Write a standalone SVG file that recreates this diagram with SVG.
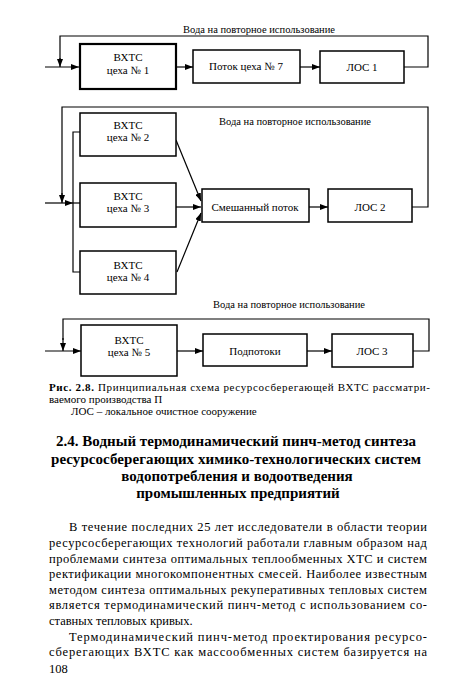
<svg xmlns="http://www.w3.org/2000/svg" width="450" height="684" viewBox="0 0 450 684">
<defs>
<marker id="ah" viewBox="0 0 8 6" refX="8" refY="3" markerWidth="8" markerHeight="6" markerUnits="userSpaceOnUse" orient="auto">
<path d="M0,0 L8,3 L0,6 z" fill="#000"/>
</marker>
</defs>
<style>
.bx{fill:#fff;stroke:#000;stroke-width:1.5}
.bx2{fill:#fff;stroke:#000;stroke-width:2.2}
.ln{fill:none;stroke:#000;stroke-width:1.2}
.ar{fill:none;stroke:#000;stroke-width:1.2;marker-end:url(#ah)}
text{font-family:'Liberation Serif','Times New Roman',Tinos,'Noto Serif','DejaVu Serif',FreeSerif,serif;fill:#000}
.t{font-size:11px;text-anchor:middle}
.lb{font-size:10.5px;text-anchor:middle}
.cap{font-size:11px}
.h{font-size:15px;font-weight:bold;text-anchor:middle}
.b{font-size:12.5px}
</style>
<rect width="450" height="684" fill="#fff"/>

<g id="connectors">
<polyline class="ln" points="404,67 428,67 428,36 60,36 60,60"/>
<path class="ar" d="M60,58 L60,67"/>
<path class="ar" d="M45,67 L79,67"/>
<path class="ar" d="M176,67 L193,67"/>
<path class="ar" d="M300,67 L320,67"/>
<polyline class="ln" points="412,207 428,207 428,107 62,107 62,195"/>
<path class="ar" d="M62,193 L62,203"/>
<path class="ar" d="M45,203 L73,203"/>
<polyline class="ln" points="80,132 73,132 73,272 80,272"/>
<path class="ln" d="M73,203 L80,203"/>
<path class="ar" d="M176,140 L201,201"/>
<path class="ar" d="M176,207 L201,207"/>
<path class="ar" d="M177,272 L201,213"/>
<path class="ar" d="M309,207 L328,207"/>
<polyline class="ln" points="413,351 429,351 429,319 63,319 63,340"/>
<path class="ar" d="M63,338 L63,351"/>
<path class="ar" d="M45,351 L81,351"/>
<path class="ar" d="M177,351 L203,351"/>
<path class="ar" d="M307,351 L332,351"/>
</g>

<g id="label1"><text class="lb" x="259" y="33" font-family="Liberation Serif, Times New Roman, serif">Вода на повторное использование</text></g>
<g id="n1"><rect class="bx2" x="80" y="44" width="96" height="45"/><text class="t" x="128" y="61">ВХТС</text><text class="t" x="128" y="74">цеха № 1</text></g>
<g id="n7"><rect class="bx" x="193" y="50" width="107" height="33"/><text class="t" x="246" y="70">Поток цеха № 7</text></g>
<g id="los1"><rect class="bx" x="320" y="51" width="84" height="32"/><text class="t" x="362" y="71">ЛОС 1</text></g>

<g id="label2"><text class="lb" x="295" y="125">Вода на повторное использование</text></g>
<g id="n2"><rect class="bx" x="80" y="113" width="96" height="43"/><text class="t" x="128" y="129">ВХТС</text><text class="t" x="128" y="141">цеха № 2</text></g>
<g id="n3"><rect class="bx" x="80" y="183" width="96" height="44"/><text class="t" x="128" y="200">ВХТС</text><text class="t" x="128" y="212">цеха № 3</text></g>
<g id="n4"><rect class="bx" x="80" y="251" width="96" height="43"/><text class="t" x="128" y="269">ВХТС</text><text class="t" x="128" y="281">цеха № 4</text></g>
<g id="mix"><rect class="bx" x="202" y="189" width="107" height="33"/><text class="t" x="255" y="211">Смешанный поток</text></g>
<g id="los2"><rect class="bx" x="328" y="189" width="84" height="33"/><text class="t" x="370" y="211">ЛОС 2</text></g>

<g id="label3"><text class="lb" x="289" y="308">Вода на повторное использование</text></g>
<g id="n5"><rect class="bx" x="81" y="325" width="96" height="51"/><text class="t" x="129" y="344">ВХТС</text><text class="t" x="129" y="356">цеха № 5</text></g>
<g id="sub"><rect class="bx" x="203" y="334" width="104" height="32"/><text class="t" x="255" y="355">Подпотоки</text></g>
<g id="los3"><rect class="bx" x="332" y="334" width="81" height="33"/><text class="t" x="372" y="355">ЛОС 3</text></g>

<g id="caption">
<text class="cap" x="49" y="391" textLength="381" lengthAdjust="spacing"><tspan font-weight="bold">Рис. 2.8.</tspan> Принципиальная схема ресурсосберегающей ВХТС рассматри-</text>
<text class="cap" x="49" y="403">ваемого производства П</text>
<text class="cap" x="71" y="415">ЛОС – локальное очистное сооружение</text>
</g>

<g id="heading">
<text class="h" x="236" y="446" textLength="360" lengthAdjust="spacing">2.4. Водный термодинамический пинч-метод синтеза</text>
<text class="h" x="236" y="464" textLength="370" lengthAdjust="spacing">ресурсосберегающих химико-технологических систем</text>
<text class="h" x="237" y="481">водопотребления и водоотведения</text>
<text class="h" x="238" y="498">промышленных предприятий</text>
</g>

<g id="body">
<text class="b" x="69" y="531" textLength="358" lengthAdjust="spacing">В течение последних 25 лет исследователи в области теории</text>
<text class="b" x="49" y="547" textLength="378" lengthAdjust="spacing">ресурсосберегающих технологий работали главным образом над</text>
<text class="b" x="49" y="563" textLength="378" lengthAdjust="spacing">проблемами синтеза оптимальных теплообменных ХТС и систем</text>
<text class="b" x="49" y="578" textLength="378" lengthAdjust="spacing">ректификации многокомпонентных смесей. Наиболее известным</text>
<text class="b" x="49" y="594" textLength="378" lengthAdjust="spacing">методом синтеза оптимальных рекуперативных тепловых систем</text>
<text class="b" x="49" y="609" textLength="378" lengthAdjust="spacing">является термодинамический пинч-метод с использованием со-</text>
<text class="b" x="49" y="625">ставных тепловых кривых.</text>
<text class="b" x="69" y="641" textLength="358" lengthAdjust="spacing">Термодинамический пинч-метод проектирования ресурсо-</text>
<text class="b" x="49" y="656" textLength="378" lengthAdjust="spacing">сберегающих ВХТС как массообменных систем базируется на</text>
<text class="b" x="49" y="673" font-size="11">108</text>
</g>
</svg>
